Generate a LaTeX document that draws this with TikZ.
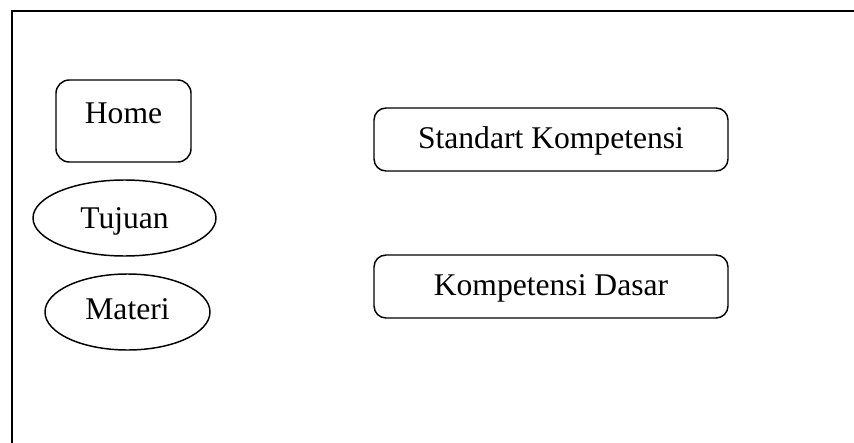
\documentclass[tikz,border=0pt]{standalone}
\usepackage{fontspec}
\setmainfont{Liberation Serif}
\usetikzlibrary{shapes.geometric}
\begin{document}
\begin{tikzpicture}[x=0.75pt,y=-0.75pt,
  every node/.style={font=\fontsize{23.7pt}{28pt}\selectfont, inner sep=0pt, line width=1.1pt},
  rbox/.style={draw, rounded corners=9pt, minimum width=354*0.75pt, minimum height=63*0.75pt, text height=13.5pt, text depth=0pt},
  oval/.style={draw, ellipse},
]
\useasboundingbox (0,0) rectangle (854,443);
\clip (0,0) rectangle (854,443);
\draw[line width=1.2pt] (12,11) rectangle (900,500);
\node[draw, rounded corners=10pt, minimum width=135*0.75pt, text height=32.25pt, text depth=29.25pt] (home) at (123.5,121) {Home};
\node[oval, minimum width=183*0.75pt, minimum height=76*0.75pt, text height=15pt, text depth=0pt] (tujuan) at (124.5,218) {Tujuan};
\node[oval, minimum width=165*0.75pt, minimum height=76*0.75pt, text height=10.5pt, text depth=0pt] (materi) at (127.5,312) {Materi};
\node[rbox] (sk) at (551,139.5) {Standart Kompetensi};
\node[rbox] (kd) at (551,286.5) {Kompetensi Dasar};
\end{tikzpicture}
\end{document}
